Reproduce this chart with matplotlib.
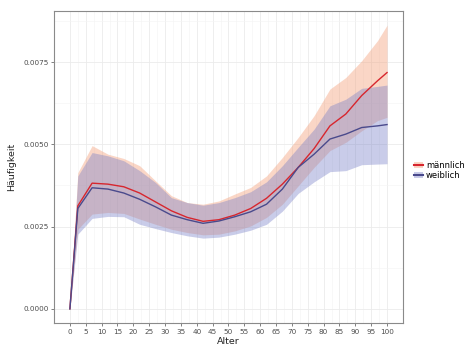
import matplotlib.pyplot as plt
from matplotlib.lines import Line2D
from matplotlib.patches import Patch
import numpy as np

alter = [0, 2.5, 7, 12, 17, 22, 27, 32, 37, 42, 47, 52, 57, 62, 67, 72, 77, 82, 87, 92, 97, 100]

m_mean = [0, 0.00313, 0.00382, 0.00379, 0.00371, 0.00352, 0.00325, 0.00298, 0.00278, 0.00266, 0.00271,
          0.00285, 0.00305, 0.00336, 0.00379, 0.00430, 0.00487, 0.00556, 0.00592, 0.00648, 0.00693, 0.00718]
m_upper = [0, 0.00414, 0.00496, 0.00470, 0.00457, 0.00435, 0.00389, 0.00344, 0.00323, 0.00318, 0.00328,
           0.00349, 0.00369, 0.00404, 0.00460, 0.00521, 0.00587, 0.00668, 0.00703, 0.00754, 0.00815, 0.00862]
m_lower = [0, 0.00242, 0.00288, 0.00293, 0.00290, 0.00273, 0.00257, 0.00242, 0.00232, 0.00225, 0.00227,
           0.00237, 0.00252, 0.00278, 0.00318, 0.00374, 0.00430, 0.00481, 0.00506, 0.00541, 0.00572, 0.00582]

w_mean = [0, 0.00305, 0.00368, 0.00364, 0.00352, 0.00333, 0.00310, 0.00285, 0.00271, 0.00260, 0.00267,
          0.00280, 0.00295, 0.00318, 0.00364, 0.00430, 0.00470, 0.00516, 0.00531, 0.00551, 0.00556, 0.00560]
w_upper = [0, 0.00404, 0.00475, 0.00465, 0.00450, 0.00420, 0.00384, 0.00338, 0.00323, 0.00315, 0.00323,
           0.00338, 0.00356, 0.00386, 0.00435, 0.00491, 0.00546, 0.00617, 0.00637, 0.00670, 0.00676, 0.00680]
w_lower = [0, 0.00227, 0.00275, 0.00281, 0.00280, 0.00257, 0.00244, 0.00232, 0.00222, 0.00215, 0.00218,
           0.00227, 0.00239, 0.00257, 0.00297, 0.00351, 0.00386, 0.00417, 0.00420, 0.00438, 0.00440, 0.00441]

fig = plt.figure(figsize=(4.74, 3.55), dpi=100)
ax = fig.add_axes([0.114, 0.090, 0.736, 0.879])

# ribbons first, then the lines on top
ax.fill_between(alter, m_lower, m_upper, color="#F4A582", alpha=0.45, linewidth=0)
ax.fill_between(alter, w_lower, w_upper, color="#7880C8", alpha=0.40, linewidth=0)
ax.plot(alter, m_mean, color="#D7262E", linewidth=1.0)
ax.plot(alter, w_mean, color="#4A4A8C", linewidth=1.0)

ax.set_xlim(-5, 105)
ax.set_ylim(-0.00043, 0.00905)
ax.set_xticks(np.arange(0, 101, 5))
ax.set_xticks(np.arange(2.5, 100, 5), minor=True)
ax.set_yticks([0, 0.0025, 0.005, 0.0075])
ax.set_yticklabels(["0.0000", "0.0025", "0.0050", "0.0075"])
ax.set_yticks([0.00125, 0.00375, 0.00625, 0.00875], minor=True)

ax.grid(True, which="major", color="#EBEBEB", linewidth=0.6)
ax.grid(True, which="minor", color="#F4F4F4", linewidth=0.4)
ax.set_axisbelow(True)
for s in ax.spines.values():
    s.set_color("#8A8A8A")
    s.set_linewidth(0.8)

ax.tick_params(which="major", labelsize=5.2, colors="#4D4D4D", length=2.5, width=0.5, pad=1.5)
ax.tick_params(which="minor", length=0)
ax.set_xlabel("Alter", fontsize=6.8, color="#222222", labelpad=2)
ax.set_ylabel("Häufigkeit", fontsize=6.8, color="#222222", labelpad=5)

handles = [
    (Patch(facecolor="#F4A582", alpha=0.45), Line2D([], [], color="#D7262E", linewidth=1.5)),
    (Patch(facecolor="#7880C8", alpha=0.40), Line2D([], [], color="#4A4A8C", linewidth=1.5)),
]
fig.legend(handles, ["männlich", "weiblich"], loc="center left", bbox_to_anchor=(0.858, 0.52),
           frameon=False, fontsize=6, handlelength=1.0, handletextpad=0.4, labelspacing=0.05)

fig.savefig("out.png", dpi=100)
